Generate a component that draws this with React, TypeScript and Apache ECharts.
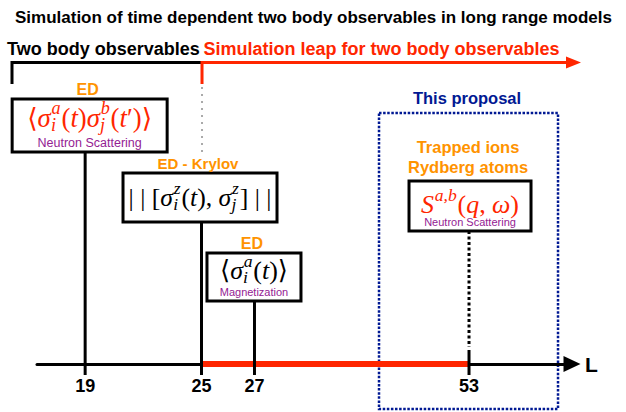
import React, { useEffect, useRef } from 'react';
import * as echarts from 'echarts';

// ---------- data ----------
const systemSizes = [19, 25, 27, 53]; // L values marked on the axis
const axisPositions = [9.0, 30.75, 40.65, 80.75]; // schematic place of each L on the (non-linear) axis, 0–100
const boxBottoms = [212, 142, 63, 133]; // height of each observable box above the axis
const methods = ['ED', 'ED - Krylov', 'ED', 'Trapped ions\nRydberg atoms'];
const captions = ['Neutron Scattering', '', 'Magnetization', 'Neutron Scattering'];
const leapRange = [25, 53];
const proposalSize = 53;
const splitSize = 25;
const titleText = 'Simulation of time dependent two body observables in long range models';
const leftHeader = 'Two body observables';
const rightHeader = 'Simulation leap for two body observables';
const proposalLabel = 'This proposal';
const axisName = 'L';

type Tok = { t?: string; it?: boolean; sup?: string; sub?: string };
const formulas: Tok[][] = [
  [{ t: '⟨' }, { t: 'σ', it: true }, { sup: 'a', sub: 'i' }, { t: '(' }, { t: 't', it: true }, { t: ')' },
   { t: 'σ', it: true }, { sup: 'b', sub: 'j' }, { t: '(' }, { t: 't', it: true }, { t: '′)⟩' }],
  [{ t: '| | [' }, { t: 'σ', it: true }, { sup: 'z', sub: 'i' }, { t: '(' }, { t: 't', it: true }, { t: '), ' },
   { t: 'σ', it: true }, { sup: 'z', sub: 'j' }, { t: '] | |' }],
  [{ t: '⟨' }, { t: 'σ', it: true }, { sup: 'a', sub: 'i' }, { t: '(' }, { t: 't', it: true }, { t: ')⟩' }],
  [{ t: 'S', it: true }, { sup: 'a,b' }, { t: '(' }, { t: 'q', it: true }, { t: ', ' }, { t: 'ω', it: true }, { t: ')' }],
];

// ---------- styles ----------
const RED = '#ff2600';
const ORANGE = '#ff9300';
const PURPLE = '#942193';
const BLUE = '#011993';
const BLACK = '#000000';
const SANS = '"Liberation Sans", Arial, Helvetica, sans-serif';
const SERIF = '"Liberation Serif", "Times New Roman", "DejaVu Serif", serif';

const boxStyles = [
  { w: 155, h: 53, dx: 4.5, fy: 19, fw: 125, color: RED, cy: 9, cs: 12.5, ly: -9.5, ls: 16, dotted: false },
  { w: 154, h: 49, dx: -1.5, fy: 24, fw: 143, color: BLACK, cy: 0, cs: 11, ly: -10, ls: 15, dotted: false },
  { w: 94, h: 48, dx: -0.5, fy: 17, fw: 68, color: BLACK, cy: 9.5, cs: 11, ly: -10, ls: 16, dotted: false },
  { w: 122, h: 50, dx: 1, fy: 23, fw: 98, color: RED, cy: 9, cs: 11, ly: -24, ls: 16.5, dotted: true },
];

let ctx: CanvasRenderingContext2D | null = null;
function measure(text: string, font: string) {
  if (!ctx) ctx = document.createElement('canvas').getContext('2d');
  ctx!.font = font;
  return ctx!.measureText(text).width;
}
const serifFont = (size: number, italic?: boolean) => `${italic ? 'italic ' : ''}${size}px ${SERIF}`;
const SCRIPT = 0.68;

function tokWidth(tok: Tok, size: number) {
  if (tok.t != null) return measure(tok.t, serifFont(size, tok.it));
  const ss = size * SCRIPT;
  return Math.max(tok.sup ? measure(tok.sup, serifFont(ss, true)) : 0, tok.sub ? measure(tok.sub, serifFont(ss, true)) : 0) + size * 0.06;
}

function formulaEls(toks: Tok[], targetW: number, color: string, cx: number, cy: number) {
  const base = 20;
  const w0 = toks.reduce((s, t) => s + tokWidth(t, base), 0);
  const size = (base * targetW) / w0;
  const widths = toks.map((t) => tokWidth(t, size));
  const total = widths.reduce((a, b) => a + b, 0);
  let x = cx - total / 2;
  const els: any[] = [];
  const ss = size * SCRIPT;
  toks.forEach((tok, k) => {
    if (tok.t != null) {
      els.push({ type: 'text', x, y: cy, style: { text: tok.t, font: serifFont(size, tok.it), fill: color, align: 'left', verticalAlign: 'middle' } });
    } else {
      if (tok.sup) els.push({ type: 'text', x: x + size * 0.03, y: cy - size * 0.36, style: { text: tok.sup, font: serifFont(ss, true), fill: color, align: 'left', verticalAlign: 'middle' } });
      if (tok.sub) els.push({ type: 'text', x: x + size * 0.005, y: cy + size * 0.28, style: { text: tok.sub, font: serifFont(ss, true), fill: color, align: 'left', verticalAlign: 'middle' } });
    }
    x += widths[k];
  });
  return els;
}

function renderItem(params: any, api: any) {
  const i = api.value(2);
  const [x, yb] = api.coord([api.value(0), api.value(1)]);
  const [, y0] = api.coord([api.value(0), 0]);
  const b = boxStyles[i];
  const children: any[] = [];
  if (b.dotted) {
    children.push({ type: 'line', shape: { x1: x, y1: yb, x2: x, y2: y0 - 17 }, style: { stroke: BLACK, lineWidth: 3, lineDash: [3, 2.5] } });
    children.push({ type: 'line', shape: { x1: x, y1: y0 - 14, x2: x, y2: y0 + 11 }, style: { stroke: BLACK, lineWidth: 3 } });
  } else {
    children.push({ type: 'line', shape: { x1: x, y1: yb, x2: x, y2: y0 + 11 }, style: { stroke: BLACK, lineWidth: 3 } });
  }
  const cx = x + b.dx;
  const bx = cx - b.w / 2;
  const by = yb - b.h;
  children.push({ type: 'rect', shape: { x: bx, y: by, width: b.w, height: b.h }, style: { fill: '#ffffff', stroke: BLACK, lineWidth: 3 } });
  children.push(...formulaEls(formulas[i], b.fw, b.color, cx, by + b.fy));
  if (captions[i]) {
    children.push({ type: 'text', x: cx, y: yb - b.cy, style: { text: captions[i], font: `${b.cs}px ${SANS}`, fill: PURPLE, align: 'center', verticalAlign: 'middle' } });
  }
  children.push({ type: 'text', x: cx - 2, y: by + b.ly, style: { text: methods[i], font: `bold ${b.ls}px ${SANS}`, fill: ORANGE, align: 'center', verticalAlign: 'middle', lineHeight: 20 } });
  return { type: 'group', children };
}

function labelFor(v: number) {
  const k = axisPositions.findIndex((p) => Math.abs(p - v) < 1e-6);
  return k >= 0 ? String(systemSizes[k]) : '';
}
const posOf = (L: number) => axisPositions[systemSizes.indexOf(L)];

export default function App() {
  const ref = useRef<HTMLDivElement>(null);
  useEffect(() => {
    const chart = echarts.init(ref.current!, null, { renderer: 'svg' });
    chart.setOption({
      animation: false,
      backgroundColor: '#ffffff',
      grid: { left: 37, right: 54, top: 0, bottom: 48 },
      xAxis: {
        type: 'value',
        min: 0,
        max: 100,
        axisLine: { show: true, onZero: false, symbol: ['none', 'triangle'], symbolSize: [16, 17], lineStyle: { color: BLACK, width: 3 } },
        axisTick: { show: false },
        splitLine: { show: false },
        axisLabel: { customValues: axisPositions, formatter: labelFor, fontSize: 18, fontWeight: 'bold', fontFamily: SANS, color: BLACK, margin: 13 },
        name: axisName,
        nameLocation: 'end',
        nameGap: 13,
        nameTextStyle: { fontSize: 21, fontWeight: 'bold', fontFamily: SANS, color: BLACK, verticalAlign: 'middle' },
      },
      yAxis: { type: 'value', min: 0, max: 364, show: false },
      series: [
        {
          type: 'line',
          data: leapRange.map((L) => [posOf(L), 0]),
          symbol: 'none',
          clip: false,
          z: 3,
          lineStyle: { color: RED, width: 6 },
        },
        {
          type: 'custom',
          data: axisPositions.map((p, i) => [p, boxBottoms[i], i]),
          renderItem,
          clip: false,
          z: 4,
        },
      ],
    });

    const split = chart.convertToPixel({ xAxisIndex: 0 }, posOf(splitSize)) as number;
    const prop = chart.convertToPixel({ xAxisIndex: 0 }, posOf(proposalSize)) as number;
    chart.setOption({
      graphic: [
        { type: 'text', x: 15, y: 17, style: { text: titleText, font: `bold 17px ${SANS}`, fill: BLACK, align: 'left', verticalAlign: 'middle' } },
        { type: 'text', x: 7, y: 49, style: { text: leftHeader, font: `bold 18px ${SANS}`, fill: BLACK, align: 'left', verticalAlign: 'middle' } },
        { type: 'text', x: split + 2, y: 49, style: { text: rightHeader, font: `bold 18px ${SANS}`, fill: RED, align: 'left', verticalAlign: 'middle' } },
        { type: 'polyline', shape: { points: [[12, 84], [12, 62.5], [split, 62.5]] }, style: { stroke: BLACK, lineWidth: 3, fill: null } },
        { type: 'polyline', shape: { points: [[split + 0.5, 84], [split + 0.5, 62.5], [568, 62.5]] }, style: { stroke: RED, lineWidth: 3, fill: null } },
        { type: 'polygon', shape: { points: [[566, 56.5], [581, 62.5], [566, 68.5]] }, style: { fill: RED } },
        { type: 'line', shape: { x1: split + 0.5, y1: 87, x2: split + 0.5, y2: 155 }, style: { stroke: '#aaaaaa', lineWidth: 2, lineDash: [2, 5] } },
        { type: 'rect', shape: { x: prop - 90, y: 113, width: 179, height: 296 }, style: { fill: null, stroke: BLUE, lineWidth: 2.5, lineDash: [2.5, 1.6] } },
        { type: 'text', x: prop - 2, y: 98, style: { text: proposalLabel, font: `bold 16.5px ${SANS}`, fill: BLUE, align: 'center', verticalAlign: 'middle' } },
      ],
    });
    return () => chart.dispose();
  }, []);
  return <div ref={ref} style={{ position: 'fixed', left: 0, top: 0, width: 626, height: 412, background: '#fff' }} />;
}
